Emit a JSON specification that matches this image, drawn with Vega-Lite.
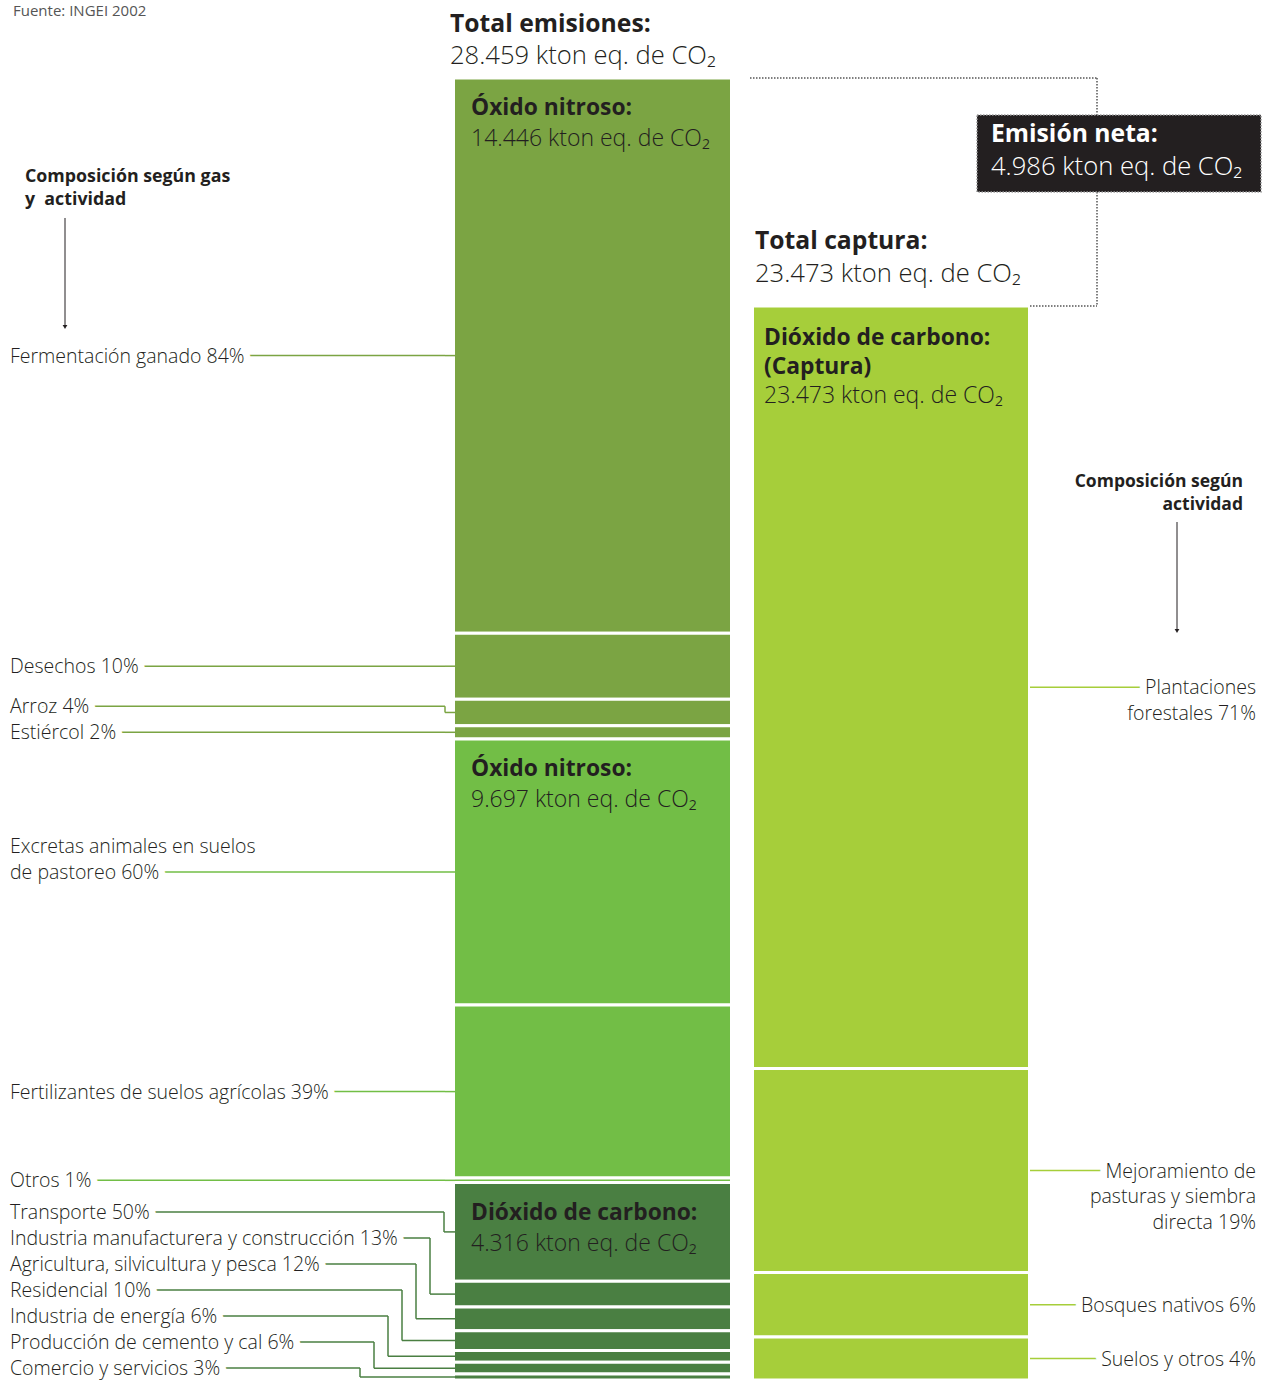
{
  "$schema": "https://vega.github.io/schema/vega-lite/v6.json",
  "width": 1266,
  "height": 1380,
  "padding": 0,
  "autosize": {"type": "none"},
  "background": "white",
  "config": {"view": {"stroke": null}, "font": "Open Sans"},
  "datasets": {
    "actividades": [
      {"balance": "Emisiones", "grupo": "Emisión 1", "orden": 1, "actividad": "Fermentación ganado", "pct": 84, "kton": 12134.6, "etiqueta": "Fermentación ganado 84%"},
      {"balance": "Emisiones", "grupo": "Emisión 1", "orden": 2, "actividad": "Desechos", "pct": 10, "kton": 1444.6, "etiqueta": "Desechos 10%"},
      {"balance": "Emisiones", "grupo": "Emisión 1", "orden": 3, "actividad": "Arroz", "pct": 4, "kton": 577.8, "etiqueta": "Arroz 4%"},
      {"balance": "Emisiones", "grupo": "Emisión 1", "orden": 4, "actividad": "Estiércol", "pct": 2, "kton": 288.9, "etiqueta": "Estiércol 2%"},
      {"balance": "Emisiones", "grupo": "Emisión 2", "orden": 5, "actividad": "Excretas animales en suelos de pastoreo", "pct": 60, "kton": 5818.2, "etiqueta": ["Excretas animales en suelos", "de pastoreo 60%"]},
      {"balance": "Emisiones", "grupo": "Emisión 2", "orden": 6, "actividad": "Fertilizantes de suelos agrícolas", "pct": 39, "kton": 3781.8, "etiqueta": "Fertilizantes de suelos agrícolas 39%"},
      {"balance": "Emisiones", "grupo": "Emisión 2", "orden": 7, "actividad": "Otros", "pct": 1, "kton": 97.0, "etiqueta": "Otros 1%"},
      {"balance": "Emisiones", "grupo": "Emisión 3", "orden": 8, "actividad": "Transporte", "pct": 50, "kton": 2158.0, "etiqueta": "Transporte 50%"},
      {"balance": "Emisiones", "grupo": "Emisión 3", "orden": 9, "actividad": "Industria manufacturera y construcción", "pct": 13, "kton": 561.1, "etiqueta": "Industria manufacturera y construcción 13%"},
      {"balance": "Emisiones", "grupo": "Emisión 3", "orden": 10, "actividad": "Agricultura, silvicultura y pesca", "pct": 12, "kton": 517.9, "etiqueta": "Agricultura, silvicultura y pesca 12%"},
      {"balance": "Emisiones", "grupo": "Emisión 3", "orden": 11, "actividad": "Residencial", "pct": 10, "kton": 431.6, "etiqueta": "Residencial 10%"},
      {"balance": "Emisiones", "grupo": "Emisión 3", "orden": 12, "actividad": "Industria de energía", "pct": 6, "kton": 259.0, "etiqueta": "Industria de energía 6%"},
      {"balance": "Emisiones", "grupo": "Emisión 3", "orden": 13, "actividad": "Producción de cemento y cal", "pct": 6, "kton": 259.0, "etiqueta": "Producción de cemento y cal 6%"},
      {"balance": "Emisiones", "grupo": "Emisión 3", "orden": 14, "actividad": "Comercio y servicios", "pct": 3, "kton": 129.5, "etiqueta": "Comercio y servicios 3%"},
      {"balance": "Captura", "grupo": "Captura", "orden": 1, "actividad": "Plantaciones forestales", "pct": 71, "kton": 16665.8, "etiqueta": ["Plantaciones", "forestales 71%"]},
      {"balance": "Captura", "grupo": "Captura", "orden": 2, "actividad": "Mejoramiento de pasturas y siembra directa", "pct": 19, "kton": 4459.9, "etiqueta": ["Mejoramiento de", "pasturas y siembra", "directa 19%"]},
      {"balance": "Captura", "grupo": "Captura", "orden": 3, "actividad": "Bosques nativos", "pct": 6, "kton": 1408.4, "etiqueta": "Bosques nativos 6%"},
      {"balance": "Captura", "grupo": "Captura", "orden": 4, "actividad": "Suelos y otros", "pct": 4, "kton": 938.9, "etiqueta": "Suelos y otros 4%"}
    ],
    "bloques": [
      {"balance": "Emisiones", "grupo": "Emisión 1", "orden": 1, "titulo": "Óxido nitroso:", "texto": "14.446 kton eq. de CO₂", "kton": 14446},
      {"balance": "Emisiones", "grupo": "Emisión 2", "orden": 2, "titulo": "Óxido nitroso:", "texto": "9.697 kton eq. de CO₂", "kton": 9697},
      {"balance": "Emisiones", "grupo": "Emisión 3", "orden": 3, "titulo": "Dióxido de carbono:", "texto": "4.316 kton eq. de CO₂", "kton": 4316},
      {"balance": "Captura", "grupo": "Captura", "orden": 1, "titulo": ["Dióxido de carbono:", "(Captura)"], "texto": "23.473 kton eq. de CO₂", "kton": 23473}
    ],
    "totales": [
      {"balance": "Emisiones", "titulo": "Total emisiones:", "texto": "28.459 kton eq. de CO₂", "kton": 28459},
      {"balance": "Captura", "titulo": "Total captura:", "texto": "23.473 kton eq. de CO₂", "kton": 23473}
    ],
    "neta": [
      {"titulo": "Emisión neta:", "texto": "4.986 kton eq. de CO₂", "kton": 4986, "emisiones": 28459, "captura": 23473}
    ],
    "notas": [
      {"id": "fuente", "texto": "Fuente: INGEI 2002"},
      {"id": "izq", "texto": ["Composición según gas", "y  actividad"]},
      {"id": "der", "texto": ["Composición según", "actividad"]}
    ]
  },
  "layer": [
    {
      "data": {"name": "actividades"},
      "transform": [
        {"stack": "kton", "groupby": ["balance"], "sort": [{"field": "orden", "order": "descending"}], "as": ["y0", "y1"]},
        {"calculate": "datum.balance === 'Emisiones' ? 453.5 : 752.5", "as": "bx0"},
        {"calculate": "datum.balance === 'Emisiones' ? 731.5 : 1029.5", "as": "bx1"}
      ],
      "mark": {"type": "rect", "stroke": "white", "strokeWidth": 3},
      "encoding": {
        "x": {"field": "bx0", "type": "quantitative", "scale": {"domain": [0, 1266], "nice": false, "zero": false}, "axis": null},
        "x2": {"field": "bx1"},
        "y": {"field": "y1", "type": "quantitative", "scale": {"domain": [0, 30164], "nice": false, "zero": false}, "axis": null},
        "y2": {"field": "y0"},
        "color": {"field": "grupo", "type": "nominal", "scale": {"domain": ["Emisión 1", "Emisión 2", "Emisión 3", "Captura"], "range": ["#7BA443", "#72BE46", "#4A7F42", "#A6CE3A"]}, "legend": null}
      }
    },
    {
      "data": {"name": "bloques"},
      "transform": [
        {"stack": "kton", "groupby": ["balance"], "sort": [{"field": "orden", "order": "descending"}], "as": ["y0", "y1"]},
        {"calculate": "datum.balance === 'Emisiones' ? 471 : 764", "as": "tx"}
      ],
      "encoding": {
        "x": {"field": "tx", "type": "quantitative", "scale": {"domain": [0, 1266], "nice": false, "zero": false}, "axis": null},
        "y": {"field": "y1", "type": "quantitative", "scale": {"domain": [0, 30164], "nice": false, "zero": false}, "axis": null}
      },
      "layer": [
        {
          "transform": [{"filter": "datum.balance === 'Emisiones'"}],
          "mark": {"type": "text", "align": "left", "baseline": "alphabetic", "dy": 37, "fontSize": 22.8, "fontWeight": "bold", "font": "Open Sans", "fill": "#231F20"},
          "encoding": {"text": {"field": "titulo"}}
        },
        {
          "transform": [{"filter": "datum.balance === 'Emisiones'"}],
          "mark": {"type": "text", "align": "left", "baseline": "alphabetic", "dy": 68, "fontSize": 23, "fontWeight": 300, "font": "Open Sans", "fill": "#231F20"},
          "encoding": {"text": {"field": "texto"}}
        },
        {
          "transform": [{"filter": "datum.balance === 'Captura'"}],
          "mark": {"type": "text", "align": "left", "baseline": "alphabetic", "dy": 39, "lineHeight": 29, "fontSize": 22.8, "fontWeight": "bold", "font": "Open Sans", "fill": "#231F20"},
          "encoding": {"text": {"field": "titulo"}}
        },
        {
          "transform": [{"filter": "datum.balance === 'Captura'"}],
          "mark": {"type": "text", "align": "left", "baseline": "alphabetic", "dy": 97, "fontSize": 23, "fontWeight": 300, "font": "Open Sans", "fill": "#231F20"},
          "encoding": {"text": {"field": "texto"}}
        }
      ]
    },
    {
      "data": {"name": "totales"},
      "transform": [
        {"calculate": "datum.balance === 'Emisiones' ? 450 : 755", "as": "hx"}
      ],
      "encoding": {
        "x": {"field": "hx", "type": "quantitative", "scale": {"domain": [0, 1266], "nice": false, "zero": false}, "axis": null},
        "y": {"field": "kton", "type": "quantitative", "scale": {"domain": [0, 30164], "nice": false, "zero": false}, "axis": null}
      },
      "layer": [
        {
          "transform": [{"filter": "datum.balance === 'Emisiones'"}],
          "mark": {"type": "text", "align": "left", "baseline": "alphabetic", "dy": -46, "fontSize": 24.7, "fontWeight": "bold", "font": "Open Sans", "fill": "#231F20"},
          "encoding": {"text": {"field": "titulo"}}
        },
        {
          "transform": [{"filter": "datum.balance === 'Emisiones'"}],
          "mark": {"type": "text", "align": "left", "baseline": "alphabetic", "dy": -14, "fontSize": 25.6, "fontWeight": 300, "font": "Open Sans", "fill": "#231F20"},
          "encoding": {"text": {"field": "texto"}}
        },
        {
          "transform": [{"filter": "datum.balance === 'Captura'"}],
          "mark": {"type": "text", "align": "left", "baseline": "alphabetic", "dy": -57, "fontSize": 24.7, "fontWeight": "bold", "font": "Open Sans", "fill": "#231F20"},
          "encoding": {"text": {"field": "titulo"}}
        },
        {
          "transform": [{"filter": "datum.balance === 'Captura'"}],
          "mark": {"type": "text", "align": "left", "baseline": "alphabetic", "dy": -24, "fontSize": 25.6, "fontWeight": 300, "font": "Open Sans", "fill": "#231F20"},
          "encoding": {"text": {"field": "texto"}}
        }
      ]
    },
    {
      "data": {"name": "neta"},
      "transform": [
        {"calculate": "750", "as": "xa"},
        {"calculate": "1097", "as": "xb"},
        {"calculate": "1030", "as": "xc"},
        {"calculate": "977", "as": "cx0"},
        {"calculate": "1261", "as": "cx1"},
        {"calculate": "27650", "as": "cy0"},
        {"calculate": "25967", "as": "cy1"}
      ],
      "layer": [
        {
          "mark": {"type": "rule", "stroke": "#555555", "strokeWidth": 1.5, "strokeDash": [1.5, 1.5]},
          "encoding": {
            "x": {"field": "xa", "type": "quantitative", "scale": {"domain": [0, 1266], "nice": false, "zero": false}, "axis": null},
            "x2": {"field": "xb"},
            "y": {"field": "emisiones", "type": "quantitative", "scale": {"domain": [0, 30164], "nice": false, "zero": false}, "axis": null}
          }
        },
        {
          "mark": {"type": "rule", "stroke": "#555555", "strokeWidth": 1.5, "strokeDash": [1.5, 1.5]},
          "encoding": {
            "x": {"field": "xb", "type": "quantitative", "scale": {"domain": [0, 1266], "nice": false, "zero": false}, "axis": null},
            "y": {"field": "emisiones", "type": "quantitative", "scale": {"domain": [0, 30164], "nice": false, "zero": false}, "axis": null},
            "y2": {"field": "captura"}
          }
        },
        {
          "mark": {"type": "rule", "stroke": "#555555", "strokeWidth": 1.5, "strokeDash": [1.5, 1.5]},
          "encoding": {
            "x": {"field": "xc", "type": "quantitative", "scale": {"domain": [0, 1266], "nice": false, "zero": false}, "axis": null},
            "x2": {"field": "xb"},
            "y": {"field": "captura", "type": "quantitative", "scale": {"domain": [0, 30164], "nice": false, "zero": false}, "axis": null}
          }
        },
        {
          "mark": {"type": "rect", "fill": "#231F20", "stroke": "#9A9A9A", "strokeWidth": 1.5, "strokeDash": [1.5, 1.5]},
          "encoding": {
            "x": {"field": "cx0", "type": "quantitative", "scale": {"domain": [0, 1266], "nice": false, "zero": false}, "axis": null},
            "x2": {"field": "cx1"},
            "y": {"field": "cy0", "type": "quantitative", "scale": {"domain": [0, 30164], "nice": false, "zero": false}, "axis": null},
            "y2": {"field": "cy1"}
          }
        },
        {
          "mark": {"type": "text", "align": "left", "baseline": "alphabetic", "dx": 14, "dy": 27, "fontSize": 24.7, "fontWeight": "bold", "font": "Open Sans", "fill": "white"},
          "encoding": {
            "x": {"field": "cx0", "type": "quantitative", "scale": {"domain": [0, 1266], "nice": false, "zero": false}, "axis": null},
            "y": {"field": "cy0", "type": "quantitative", "scale": {"domain": [0, 30164], "nice": false, "zero": false}, "axis": null},
            "text": {"field": "titulo"}
          }
        },
        {
          "mark": {"type": "text", "align": "left", "baseline": "alphabetic", "dx": 14, "dy": 60, "fontSize": 25.6, "fontWeight": 300, "font": "Open Sans", "fill": "white"},
          "encoding": {
            "x": {"field": "cx0", "type": "quantitative", "scale": {"domain": [0, 1266], "nice": false, "zero": false}, "axis": null},
            "y": {"field": "cy0", "type": "quantitative", "scale": {"domain": [0, 30164], "nice": false, "zero": false}, "axis": null},
            "text": {"field": "texto"}
          }
        }
      ]
    },
    {
      "data": {"name": "notas"},
      "transform": [
        {"calculate": "datum.id === 'fuente' ? 13 : datum.id === 'izq' ? 25 : 1243", "as": "nx"},
        {"calculate": "datum.id === 'fuente' ? 29814 : datum.id === 'izq' ? 26186 : 19519", "as": "ny"},
        {"calculate": "datum.id === 'izq' ? ['Composición según gas', 'y\u00a0 actividad'] : datum.texto", "as": "texto_svg"}
      ],
      "encoding": {
        "x": {"field": "nx", "type": "quantitative", "scale": {"domain": [0, 1266], "nice": false, "zero": false}, "axis": null},
        "y": {"field": "ny", "type": "quantitative", "scale": {"domain": [0, 30164], "nice": false, "zero": false}, "axis": null},
        "text": {"field": "texto_svg"}
      },
      "layer": [
        {
          "transform": [{"filter": "datum.id === 'fuente'"}],
          "mark": {"type": "text", "align": "left", "baseline": "alphabetic", "fontSize": 15, "font": "Open Sans", "fill": "#555555"}
        },
        {
          "transform": [{"filter": "datum.id === 'izq'"}],
          "mark": {"type": "text", "align": "left", "baseline": "alphabetic", "fontSize": 17.8, "lineHeight": 23, "fontWeight": "bold", "font": "Open Sans", "fill": "#231F20"}
        },
        {
          "transform": [{"filter": "datum.id === 'der'"}],
          "mark": {"type": "text", "align": "right", "baseline": "alphabetic", "fontSize": 17.5, "lineHeight": 22.5, "fontWeight": "bold", "font": "Open Sans", "fill": "#231F20"}
        }
      ]
    },
    {
      "data": {"name": "notas"},
      "transform": [
        {"filter": "datum.id !== 'fuente'"},
        {"calculate": "datum.id === 'izq' ? 65 : 1177", "as": "ax"},
        {"calculate": "datum.id === 'izq' ? 25399 : 18754", "as": "ay0"},
        {"calculate": "datum.id === 'izq' ? 23038 : 16394", "as": "ay1"},
        {"calculate": "datum.id === 'izq' ? 23016 : 16372", "as": "ah"}
      ],
      "encoding": {
        "x": {"field": "ax", "type": "quantitative", "scale": {"domain": [0, 1266], "nice": false, "zero": false}, "axis": null}
      },
      "layer": [
        {
          "mark": {"type": "rule", "stroke": "#231F20", "strokeWidth": 1},
          "encoding": {
            "y": {"field": "ay0", "type": "quantitative", "scale": {"domain": [0, 30164], "nice": false, "zero": false}, "axis": null},
            "y2": {"field": "ay1"}
          }
        },
        {
          "mark": {"type": "point", "shape": "triangle-down", "filled": true, "size": 22, "fill": "#231F20", "opacity": 1},
          "encoding": {
            "y": {"field": "ah", "type": "quantitative", "scale": {"domain": [0, 30164], "nice": false, "zero": false}, "axis": null}
          }
        }
      ]
    },
    {
      "data": {"name": "actividades"},
      "transform": [
        {"stack": "kton", "groupby": ["balance"], "sort": [{"field": "orden", "order": "descending"}], "as": ["y0", "y1"]},
        {"filter": "datum.balance === 'Emisiones'"},
        {"calculate": "(datum.y0 + datum.y1) / 2", "as": "medio"},
        {"window": [{"op": "row_number", "as": "rn"}], "sort": [{"field": "medio", "order": "ascending"}]},
        {"calculate": "datum.medio - (datum.rn - 1) * 568.3", "as": "a"},
        {"window": [{"op": "max", "field": "a", "as": "cm"}], "sort": [{"field": "medio", "order": "ascending"}], "frame": [null, 0]},
        {"calculate": "(datum.rn - 1) * 568.3 + max(datum.cm, 262.3)", "as": "ly"},
        {"calculate": "min(360 + 14 * (datum.rn - 1), 445)", "as": "ex"},
        {"calculate": "10", "as": "lx"},
        {"calculate": "455", "as": "bx"}
      ],
      "layer": [
        {
          "mark": {"type": "rule", "strokeWidth": 1.5},
          "encoding": {
            "x": {"field": "lx", "type": "quantitative", "scale": {"domain": [0, 1266], "nice": false, "zero": false}, "axis": null},
            "x2": {"field": "ex"},
            "y": {"field": "ly", "type": "quantitative", "scale": {"domain": [0, 30164], "nice": false, "zero": false}, "axis": null},
            "color": {"field": "grupo", "type": "nominal", "scale": {"domain": ["Emisión 1", "Emisión 2", "Emisión 3", "Captura"], "range": ["#7BA443", "#72BE46", "#4A7F42", "#A6CE3A"]}, "legend": null}
          }
        },
        {
          "mark": {"type": "rule", "strokeWidth": 1.5},
          "encoding": {
            "x": {"field": "ex", "type": "quantitative", "scale": {"domain": [0, 1266], "nice": false, "zero": false}, "axis": null},
            "y": {"field": "ly", "type": "quantitative", "scale": {"domain": [0, 30164], "nice": false, "zero": false}, "axis": null},
            "y2": {"field": "medio"},
            "color": {"field": "grupo", "type": "nominal", "scale": {"domain": ["Emisión 1", "Emisión 2", "Emisión 3", "Captura"], "range": ["#7BA443", "#72BE46", "#4A7F42", "#A6CE3A"]}, "legend": null}
          }
        },
        {
          "mark": {"type": "rule", "strokeWidth": 1.5},
          "encoding": {
            "x": {"field": "ex", "type": "quantitative", "scale": {"domain": [0, 1266], "nice": false, "zero": false}, "axis": null},
            "x2": {"field": "bx"},
            "y": {"field": "medio", "type": "quantitative", "scale": {"domain": [0, 30164], "nice": false, "zero": false}, "axis": null},
            "color": {"field": "grupo", "type": "nominal", "scale": {"domain": ["Emisión 1", "Emisión 2", "Emisión 3", "Captura"], "range": ["#7BA443", "#72BE46", "#4A7F42", "#A6CE3A"]}, "legend": null}
          }
        },
        {
          "transform": [{"filter": "!isArray(datum.etiqueta)"}],
          "mark": {"type": "text", "align": "left", "baseline": "alphabetic", "dy": 7, "fontSize": 19.5, "fontWeight": 300, "font": "Open Sans", "fill": "white", "stroke": "white", "strokeWidth": 14, "strokeJoin": "round"},
          "encoding": {
            "x": {"field": "lx", "type": "quantitative", "scale": {"domain": [0, 1266], "nice": false, "zero": false}, "axis": null},
            "y": {"field": "ly", "type": "quantitative", "scale": {"domain": [0, 30164], "nice": false, "zero": false}, "axis": null},
            "text": {"field": "etiqueta"}
          }
        },
        {
          "transform": [{"filter": "isArray(datum.etiqueta)"}],
          "mark": {"type": "text", "align": "left", "baseline": "alphabetic", "dy": -19, "lineHeight": 26, "fontSize": 19.5, "fontWeight": 300, "font": "Open Sans", "fill": "white", "stroke": "white", "strokeWidth": 14, "strokeJoin": "round"},
          "encoding": {
            "x": {"field": "lx", "type": "quantitative", "scale": {"domain": [0, 1266], "nice": false, "zero": false}, "axis": null},
            "y": {"field": "ly", "type": "quantitative", "scale": {"domain": [0, 30164], "nice": false, "zero": false}, "axis": null},
            "text": {"field": "etiqueta"}
          }
        },
        {
          "transform": [{"filter": "!isArray(datum.etiqueta)"}],
          "mark": {"type": "text", "align": "left", "baseline": "alphabetic", "dy": 7, "fontSize": 19.5, "fontWeight": 300, "font": "Open Sans", "fill": "#231F20"},
          "encoding": {
            "x": {"field": "lx", "type": "quantitative", "scale": {"domain": [0, 1266], "nice": false, "zero": false}, "axis": null},
            "y": {"field": "ly", "type": "quantitative", "scale": {"domain": [0, 30164], "nice": false, "zero": false}, "axis": null},
            "text": {"field": "etiqueta"}
          }
        },
        {
          "transform": [{"filter": "isArray(datum.etiqueta)"}],
          "mark": {"type": "text", "align": "left", "baseline": "alphabetic", "dy": -19, "lineHeight": 26, "fontSize": 19.5, "fontWeight": 300, "font": "Open Sans", "fill": "#231F20"},
          "encoding": {
            "x": {"field": "lx", "type": "quantitative", "scale": {"domain": [0, 1266], "nice": false, "zero": false}, "axis": null},
            "y": {"field": "ly", "type": "quantitative", "scale": {"domain": [0, 30164], "nice": false, "zero": false}, "axis": null},
            "text": {"field": "etiqueta"}
          }
        }
      ]
    },
    {
      "data": {"name": "actividades"},
      "transform": [
        {"stack": "kton", "groupby": ["balance"], "sort": [{"field": "orden", "order": "descending"}], "as": ["y0", "y1"]},
        {"filter": "datum.balance === 'Captura'"},
        {"calculate": "(datum.y0 + datum.y1) / 2", "as": "medio"},
        {"calculate": "1030", "as": "rx0"},
        {"calculate": "1256", "as": "rx1"}
      ],
      "layer": [
        {
          "mark": {"type": "rule", "strokeWidth": 1.5},
          "encoding": {
            "x": {"field": "rx0", "type": "quantitative", "scale": {"domain": [0, 1266], "nice": false, "zero": false}, "axis": null},
            "x2": {"field": "rx1"},
            "y": {"field": "medio", "type": "quantitative", "scale": {"domain": [0, 30164], "nice": false, "zero": false}, "axis": null},
            "color": {"field": "grupo", "type": "nominal", "scale": {"domain": ["Emisión 1", "Emisión 2", "Emisión 3", "Captura"], "range": ["#7BA443", "#72BE46", "#4A7F42", "#A6CE3A"]}, "legend": null}
          }
        },
        {
          "mark": {"type": "text", "align": "right", "baseline": "alphabetic", "dy": 7, "lineHeight": 25.5, "fontSize": 19.5, "fontWeight": 300, "font": "Open Sans", "fill": "white", "stroke": "white", "strokeWidth": 14, "strokeJoin": "round"},
          "encoding": {
            "x": {"field": "rx1", "type": "quantitative", "scale": {"domain": [0, 1266], "nice": false, "zero": false}, "axis": null},
            "y": {"field": "medio", "type": "quantitative", "scale": {"domain": [0, 30164], "nice": false, "zero": false}, "axis": null},
            "text": {"field": "etiqueta"}
          }
        },
        {
          "mark": {"type": "text", "align": "right", "baseline": "alphabetic", "dy": 7, "lineHeight": 25.5, "fontSize": 19.5, "fontWeight": 300, "font": "Open Sans", "fill": "#231F20"},
          "encoding": {
            "x": {"field": "rx1", "type": "quantitative", "scale": {"domain": [0, 1266], "nice": false, "zero": false}, "axis": null},
            "y": {"field": "medio", "type": "quantitative", "scale": {"domain": [0, 30164], "nice": false, "zero": false}, "axis": null},
            "text": {"field": "etiqueta"}
          }
        }
      ]
    }
  ]
}
